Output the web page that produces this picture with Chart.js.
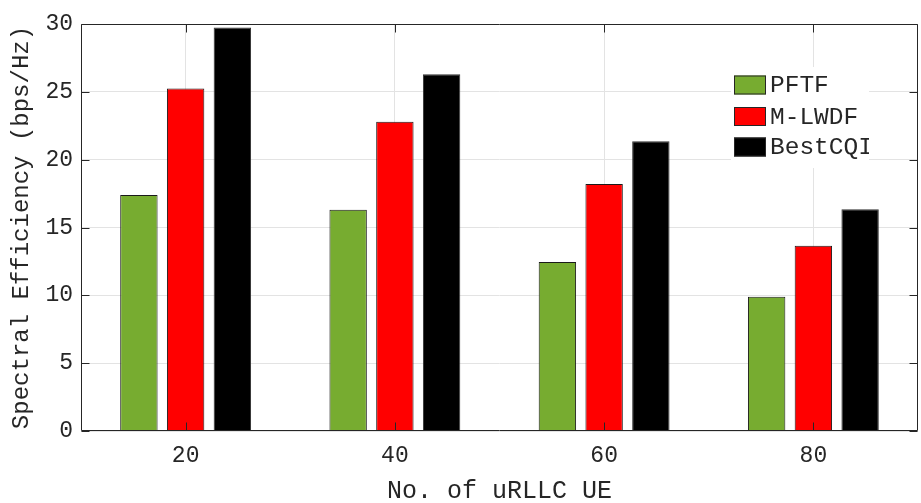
<!DOCTYPE html>
<html>
<head>
<meta charset="utf-8">
<script src="https://cdn.jsdelivr.net/npm/chart.js@4"></script>
<style>
  html, body { margin: 0; padding: 0; background: #fff; }
  #wrap { width: 921px; height: 503px; }
</style>
</head>
<body>
<div id="wrap"><canvas id="c" width="921" height="503"></canvas></div>
<script>
// Spectral efficiency per scheduler vs. number of uRLLC users
const categories = ['20', '40', '60', '80'];
const pftf   = [17.4, 16.3, 12.45, 9.9];
const mlwdf  = [25.25, 22.8, 18.2, 13.65];
const bestCqi = [29.75, 26.3, 21.35, 16.35];
const seriesNames = ['PFTF', 'M-LWDF', 'BestCQI'];
const yTicks = [0, 5, 10, 15, 20, 25, 30];

const FONT = "'Liberation Mono', 'Courier New', monospace";
const INK = '#262626';

// Box around the plot with inward tick marks, drawn over the bars
const axesBox = {
  id: 'axesBox',
  afterDatasetsDraw(chart) {
    const { ctx, chartArea: a, scales: { x, y } } = chart;
    const L = Math.round(a.left) + 0.5, R = Math.round(a.right) - 0.5;
    const T = Math.round(a.top) + 0.5, B = Math.round(a.bottom) - 0.5;
    const tl = 8;
    ctx.save();
    ctx.strokeStyle = INK;
    ctx.lineWidth = 1;
    ctx.beginPath();
    ctx.rect(L, T, R - L, B - T);
    y.ticks.forEach(t => {
      const py = Math.round(y.getPixelForValue(t.value)) + 0.5;
      ctx.moveTo(L, py); ctx.lineTo(L + tl, py);
      ctx.moveTo(R, py); ctx.lineTo(R - tl, py);
    });
    categories.forEach((c, i) => {
      const px = Math.round(x.getPixelForValue(i)) + 0.5;
      ctx.moveTo(px, B); ctx.lineTo(px, B - tl);
      ctx.moveTo(px, T); ctx.lineTo(px, T + tl);
    });
    ctx.stroke();
    ctx.restore();
  }
};

// Legend box inside the plot, upper right
const innerLegend = {
  id: 'innerLegend',
  afterDraw(chart) {
    const { ctx } = chart;
    const box = { x: 731, y: 67, w: 138, h: 101 };
    ctx.save();
    ctx.fillStyle = '#fff';
    ctx.fillRect(box.x, box.y, box.w, box.h);
    ctx.beginPath();
    ctx.rect(box.x, box.y, box.w, box.h);
    ctx.clip();
    const rows = [85, 116.5, 147];
    chart.data.datasets.forEach((ds, i) => {
      const cy = rows[i];
      ctx.fillStyle = ds.backgroundColor;
      ctx.fillRect(734, cy - 9.5, 32, 19);
      ctx.strokeStyle = INK;
      ctx.lineWidth = 1;
      ctx.strokeRect(734.5, cy - 9, 31, 18);
      ctx.fillStyle = INK;
      ctx.font = '24.5px ' + FONT;
      ctx.textBaseline = 'middle';
      ctx.textAlign = 'left';
      ctx.fillText(ds.label, 770, cy + 1);
    });
    ctx.restore();
  }
};

new Chart(document.getElementById('c'), {
  type: 'bar',
  data: {
    labels: categories,
    datasets: [
      { label: seriesNames[0], data: pftf, backgroundColor: '#77AC30', borderColor: '#1a1a1a', borderWidth: 1 },
      { label: seriesNames[1], data: mlwdf, backgroundColor: '#FF0000', borderColor: '#1a1a1a', borderWidth: 1 },
      { label: seriesNames[2], data: bestCqi, backgroundColor: '#000000', borderColor: '#333333', borderWidth: 1 }
    ]
  },
  options: {
    responsive: false,
    animation: false,
    devicePixelRatio: 1,
    layout: { padding: { top: 24, right: 3, left: 0, bottom: 0 } },
    plugins: { legend: { display: false }, tooltip: { enabled: false } },
    datasets: { bar: { barPercentage: 0.8, categoryPercentage: 0.67 } },
    scales: {
      x: {
        offset: true,
        grid: { offset: false, color: '#e3e3e3', drawTicks: false },
        border: { display: false },
        ticks: { color: INK, font: { family: FONT, size: 23 }, padding: 11 },
        title: {
          display: true, text: 'No. of uRLLC UE', color: INK,
          font: { family: FONT, size: 25, lineHeight: 0.9 }, padding: { top: 0, bottom: 0 }
        },
        afterFit(s) { s.height = 72; }
      },
      y: {
        min: 0, max: 30,
        afterBuildTicks(s) { s.ticks = yTicks.map(v => ({ value: v })); },
        grid: { color: '#e3e3e3', drawTicks: false },
        border: { display: false },
        ticks: { color: INK, font: { family: FONT, size: 23 }, padding: 8 },
        title: {
          display: true, text: 'Spectral Efficiency (bps/Hz)', color: INK,
          font: { family: FONT, size: 24, lineHeight: 1 }, padding: { top: 10, bottom: 0 }
        },
        afterFit(s) { s.width = 81; }
      }
    }
  },
  plugins: [axesBox, innerLegend]
});
</script>
</body>
</html>
